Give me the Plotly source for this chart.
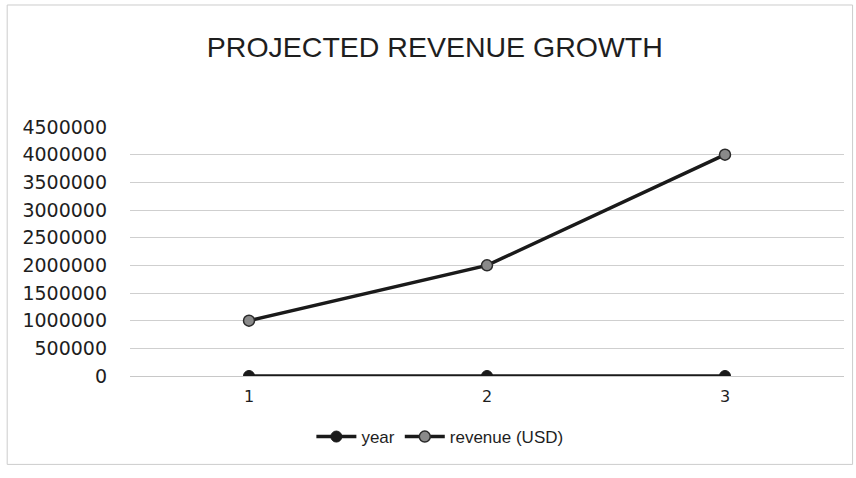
import plotly.graph_objects as go

categories = ["1", "2", "3"]
year_values = [1, 2, 3]
revenue_values = [1000000, 2000000, 4000000]
y_ticks = [0, 500000, 1000000, 1500000, 2000000, 2500000, 3000000, 3500000, 4000000, 4500000]

fig = go.Figure()
fig.add_trace(go.Scatter(
    x=categories, y=year_values, name="year", mode="lines+markers",
    line=dict(color="#1a1a1a", width=3.5),
    marker=dict(symbol="circle", size=11, color="#1a1a1a", line=dict(color="#1a1a1a", width=1)),
))
fig.add_trace(go.Scatter(
    x=categories, y=revenue_values, name="revenue (USD)", mode="lines+markers",
    line=dict(color="#1a1a1a", width=3.5),
    marker=dict(symbol="circle", size=11, color="#8a8a8a", line=dict(color="#2a2a2a", width=1.5)),
))

fig.update_layout(
    width=856, height=478,
    paper_bgcolor="white", plot_bgcolor="white",
    margin=dict(l=130, r=12, t=127, b=102),
    title=dict(text="PROJECTED REVENUE GROWTH", x=0.508, xanchor="center", y=0.902, yanchor="middle",
               font=dict(family="Liberation Sans, Arial", size=28.5, color="#1e1e1e")),
    font=dict(family="DejaVu Sans", size=19, color="#1e1e1e"),
    showlegend=True,
    legend=dict(orientation="h", x=0.434, xanchor="center", y=-0.245, yanchor="middle",
                font=dict(family="Liberation Sans, Arial", size=17, color="#1e1e1e"),
                itemwidth=40, tracegroupgap=0, bgcolor="rgba(0,0,0,0)"),
    xaxis=dict(type="category", range=[-0.5, 2.5], showgrid=False, zeroline=False,
               showline=True, linecolor="#c8c8c8", ticks="", tickfont=dict(size=16),
               ticklabelstandoff=6),
    yaxis=dict(range=[0, 4500000], tickvals=y_ticks, ticktext=[str(v) for v in y_ticks],
               showgrid=True, gridcolor="#cfcfcf", gridwidth=1, zeroline=False,
               showline=False, ticks="", tickfont=dict(size=19), ticklabelstandoff=22),
    shapes=[dict(type="rect", xref="paper", yref="paper", x0=-0.172, x1=1.012, y0=-0.355, y1=1.49,
                 line=dict(color="#cccccc", width=1), fillcolor="rgba(0,0,0,0)")],
)

fig.write_html("out.html")
